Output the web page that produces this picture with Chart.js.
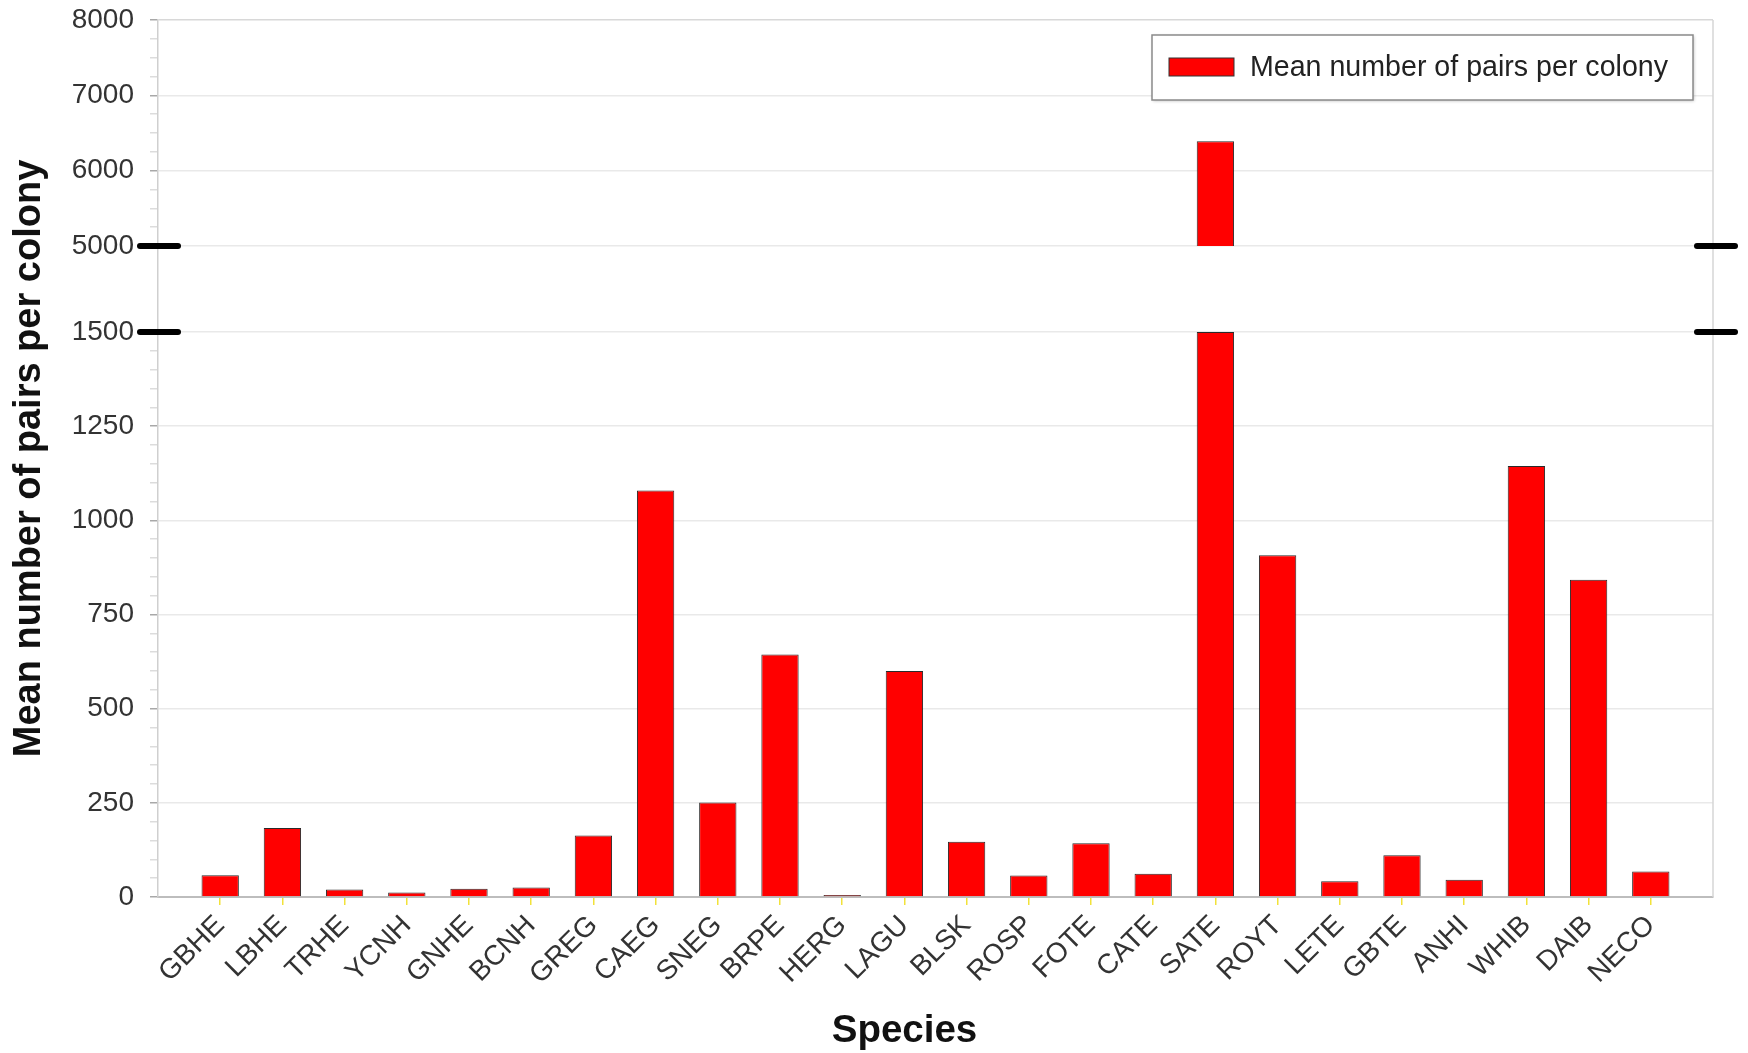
<!DOCTYPE html>
<html>
<head>
<meta charset="utf-8">
<script src="https://cdn.jsdelivr.net/npm/chart.js@4.4.1/dist/chart.umd.min.js"></script>
<style>
  html, body { margin: 0; padding: 0; background: #ffffff; }
  #wrap { width: 1748px; height: 1053px; }
</style>
</head>
<body>
<div id="wrap"><canvas id="c" width="1748" height="1053"></canvas></div>
<script>
// ---- data ----
const categories = ['GBHE','LBHE','TRHE','YCNH','GNHE','BCNH','GREG','CAEG','SNEG','BRPE','HERG','LAGU',
                    'BLSK','ROSP','FOTE','CATE','SATE','ROYT','LETE','GBTE','ANHI','WHIB','DAIB','NECO'];
const meanPairs = [58, 183, 20, 12, 22, 25, 163, 1079, 251, 644, 5, 600,
                   147, 57, 143, 62, 6389, 907, 42, 111, 46, 1144, 842, 68];
const lowerTickLabels = [0, 250, 500, 750, 1000, 1250, 1500];
const upperTickLabels = [5000, 6000, 7000, 8000];
const seriesLabel = 'Mean number of pairs per colony';
const yTitle = 'Mean number of pairs per colony';
const xTitle = 'Species';
const breakLow = 1500;   // top of lower segment
const breakHigh = 5000;  // bottom of upper segment
const axisTop = 8000;

const FONT = "'Liberation Sans', Arial, Helvetica, sans-serif";
const RED = '#ff0000';

const lowerData = meanPairs.map((v, i) => ({ x: i, y: Math.min(v, breakLow) }));
const upperData = meanPairs.map((v, i) => ({ x: i, y: v > breakHigh ? v : null }));

const barStyle = {
  backgroundColor: RED,
  borderColor: '#2a2a2a',
  borderWidth: 1,
  grouped: false,
  categoryPercentage: 1,
  barPercentage: 0.6
};

const decorPlugin = {
  id: 'decor',
  afterDraw(chart) {
    const { ctx, chartArea: a, scales } = chart;
    ctx.save();
    // right frame line
    ctx.strokeStyle = '#d6d6d6';
    ctx.lineWidth = 1.5;
    ctx.beginPath();
    ctx.moveTo(a.right, a.top);
    ctx.lineTo(a.right, a.bottom);
    ctx.stroke();

    // axis-break marks
    const yb1 = scales.yHigh.getPixelForValue(breakHigh);
    const yb2 = scales.yLow.getPixelForValue(breakLow);
    ctx.strokeStyle = '#000';
    ctx.lineWidth = 6;
    ctx.lineCap = 'round';
    [yb1, yb2].forEach(y => {
      ctx.beginPath(); ctx.moveTo(a.left - 18, y); ctx.lineTo(a.left + 20, y); ctx.stroke();
      ctx.beginPath(); ctx.moveTo(a.right - 16, y); ctx.lineTo(a.right + 22, y); ctx.stroke();
    });

    // legend box
    const bx = a.right - 561, by = a.top + 15, bw = 541, bh = 65;
    ctx.lineCap = 'butt';
    ctx.shadowColor = 'rgba(0,0,0,0.25)';
    ctx.shadowBlur = 3;
    ctx.shadowOffsetX = 1;
    ctx.shadowOffsetY = 1;
    ctx.fillStyle = '#ffffff';
    ctx.fillRect(bx, by, bw, bh);
    ctx.shadowColor = 'transparent';
    ctx.strokeStyle = '#8a8a8a';
    ctx.lineWidth = 1.5;
    ctx.strokeRect(bx, by, bw, bh);
    ctx.fillStyle = RED;
    ctx.fillRect(bx + 17, by + 23, 65, 18);
    ctx.strokeStyle = '#333';
    ctx.lineWidth = 1;
    ctx.strokeRect(bx + 17, by + 23, 65, 18);
    ctx.fillStyle = '#222';
    ctx.font = '28.6px ' + FONT;
    ctx.textBaseline = 'middle';
    ctx.textAlign = 'left';
    ctx.fillText(seriesLabel, bx + 98, by + 33);

    // x axis title
    ctx.fillStyle = '#111';
    ctx.font = 'bold 38.5px ' + FONT;
    ctx.textAlign = 'center';
    ctx.textBaseline = 'middle';
    ctx.fillText(xTitle, (a.left + a.right) / 2 - 31, 1031);
    ctx.restore();
  }
};

const tickFont = { size: 28, family: FONT };
const isIn = (arr, v) => arr.indexOf(v) !== -1;
const fitY = s => { s.width = 106; s.paddingTop = 0; s.paddingBottom = 0; };

new Chart(document.getElementById('c'), {
  type: 'bar',
  data: {
    datasets: [
      Object.assign({ label: seriesLabel, data: lowerData, yAxisID: 'yLow' }, barStyle),
      Object.assign({ label: seriesLabel + ' (upper)', data: upperData, yAxisID: 'yHigh' }, barStyle)
    ]
  },
  options: {
    responsive: false,
    animation: false,
    devicePixelRatio: 1,
    layout: { padding: { top: 20, right: 35, left: 0, bottom: 0 } },
    plugins: { legend: { display: false }, tooltip: { enabled: false } },
    scales: {
      x: {
        type: 'linear',
        min: -1,
        max: categories.length,
        offset: false,
        afterBuildTicks: s => { s.ticks = categories.map((c, i) => ({ value: i })); },
        afterFit: s => { s.height = 156; },
        ticks: {
          autoSkip: false,
          maxRotation: 45,
          minRotation: 45,
          padding: 4,
          color: '#333',
          font: tickFont,
          callback: v => categories[v] !== undefined ? categories[v] : ''
        },
        grid: { display: true, offset: false, drawOnChartArea: false, drawTicks: true, tickLength: 8, tickColor: '#f2e23a', lineWidth: 1.5 },
        border: { display: true, color: '#bdbdbd', width: 2 }
      },
      yLow: {
        type: 'linear',
        position: 'left',
        stack: 'left',
        stackWeight: 565,
        min: 0,
        max: breakLow,
        afterFit: fitY,
        ticks: {
          stepSize: 50,
          autoSkip: false,
          padding: 16,
          color: '#333',
          font: tickFont,
          callback: v => isIn(lowerTickLabels, v) ? String(v) : ''
        },
        grid: {
          tickLength: 8,
          lineWidth: 1.5,
          color: c => (c.tick && isIn(lowerTickLabels, c.tick.value) && c.tick.value !== 0) ? '#e9e9e9' : 'rgba(0,0,0,0)',
          tickColor: c => (c.tick && isIn(lowerTickLabels, c.tick.value)) ? '#a8a8a8' : '#dcdcdc'
        },
        border: { display: true, color: '#cfcfcf', width: 1.5 }
      },
      yGap: {
        type: 'linear',
        position: 'left',
        stack: 'left',
        stackWeight: 86,
        min: 0,
        max: 1,
        afterFit: fitY,
        ticks: { display: false },
        grid: { display: true, drawOnChartArea: false, drawTicks: false },
        border: { display: true, color: '#cfcfcf', width: 1.5 }
      },
      yHigh: {
        type: 'linear',
        position: 'left',
        stack: 'left',
        stackWeight: 226,
        min: breakHigh,
        max: axisTop,
        afterFit: fitY,
        ticks: {
          stepSize: 250,
          autoSkip: false,
          padding: 16,
          color: '#333',
          font: tickFont,
          callback: v => isIn(upperTickLabels, v) ? String(v) : ''
        },
        grid: {
          tickLength: 8,
          lineWidth: 1.5,
          color: c => (c.tick && isIn(upperTickLabels, c.tick.value)) ? (c.tick.value === axisTop ? '#d8d8d8' : '#e9e9e9') : 'rgba(0,0,0,0)',
          tickColor: c => (c.tick && isIn(upperTickLabels, c.tick.value)) ? '#a8a8a8' : '#dcdcdc'
        },
        border: { display: true, color: '#cfcfcf', width: 1.5 }
      },
      yTitle: {
        type: 'linear',
        position: 'left',
        weight: 10,
        min: 0,
        max: 1,
        afterFit: s => { s.width = 52; s.paddingTop = 0; s.paddingBottom = 0; },
        ticks: { display: false },
        grid: { display: false },
        border: { display: false },
        title: {
          display: true,
          text: yTitle,
          color: '#111',
          font: { size: 38, weight: 'bold', family: FONT },
          padding: { top: 7, bottom: 0 }
        }
      }
    }
  },
  plugins: [decorPlugin]
});
</script>
</body>
</html>
